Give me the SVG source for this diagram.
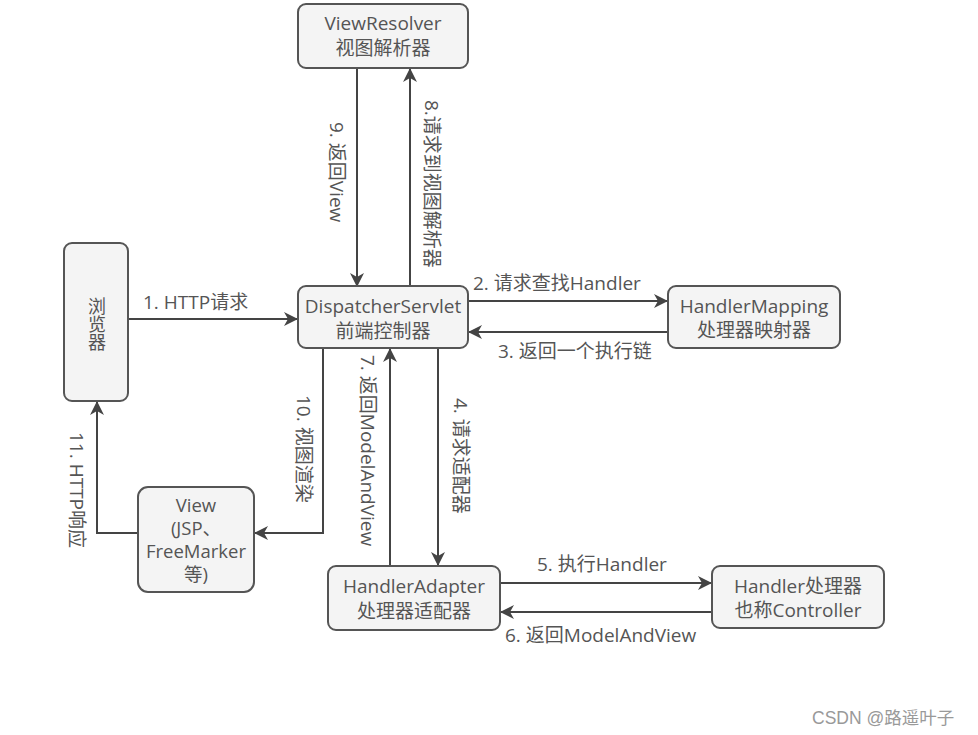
<svg xmlns="http://www.w3.org/2000/svg" width="978" height="735" viewBox="0 0 978 735">
<style>
.box{fill:#f4f4f4;stroke:#555;stroke-width:2}
.t{font-family:"Open Sans","Noto Sans CJK SC",sans-serif;font-size:19px;fill:#555}
.c{text-anchor:middle}
.v{dominant-baseline:central}
.ln{fill:none;stroke:#444;stroke-width:2}
.wm{font-family:"Liberation Sans","Noto Sans CJK SC",sans-serif;font-size:17.5px;fill:#999}
</style>
<defs>
<marker id="ah" viewBox="0 0 14 14" refX="13" refY="7" markerWidth="14" markerHeight="14" markerUnits="userSpaceOnUse" orient="auto">
<path d="M0,0 L14,7 L0,14 L4,7 z" fill="#444"/>
</marker>
</defs>
<rect width="978" height="735" fill="#fff"/>
<g id="connectors">
<path class="ln" d="M357,68 V286" marker-end="url(#ah)"/>
<path class="ln" d="M410,286 V69" marker-end="url(#ah)"/>
<path class="ln" d="M128,319 H297" marker-end="url(#ah)"/>
<path class="ln" d="M468,301 H667" marker-end="url(#ah)"/>
<path class="ln" d="M668,332 H469" marker-end="url(#ah)"/>
<path class="ln" d="M323,348 V533 H255" marker-end="url(#ah)"/>
<path class="ln" d="M390,566 V349" marker-end="url(#ah)"/>
<path class="ln" d="M438,348 V565" marker-end="url(#ah)"/>
<path class="ln" d="M138,533 H97 V402" marker-end="url(#ah)"/>
<path class="ln" d="M500,583 H711" marker-end="url(#ah)"/>
<path class="ln" d="M712,612 H501" marker-end="url(#ah)"/>
<text class="t" x="143" y="309">1. HTTP请求</text>
<text class="t" x="473" y="290">2. 请求查找Handler</text>
<text class="t" x="498" y="358">3. 返回一个执行链</text>
<text class="t" x="537" y="571">5. 执行Handler</text>
<text class="t" x="505" y="642">6. 返回ModelAndView</text>
<text class="t v" transform="translate(337,122) rotate(90)">9. 返回View</text>
<text class="t v" transform="translate(432,100) rotate(90)">8.请求到视图解析器</text>
<text class="t v" transform="translate(304,395) rotate(90)">10. 视图渲染</text>
<text class="t v" transform="translate(368,355) rotate(90)">7. 返回ModelAndView</text>
<text class="t v" transform="translate(461,398) rotate(90)">4. 请求适配器</text>
<text class="t v" transform="translate(77,432) rotate(90)">11. HTTP响应</text>
</g>
<g id="viewresolver">
<rect class="box" x="298" y="4" width="170" height="64" rx="8"/>
<text class="t c" x="383" y="30">ViewResolver</text>
<text class="t c" x="383" y="55">视图解析器</text>
</g>
<g id="browser">
<rect class="box" x="64" y="243" width="64" height="158" rx="8"/>
<text class="t c" x="96" y="324" style="writing-mode:vertical-rl;font-size:18px">浏览器</text>
</g>
<g id="dispatcher">
<rect class="box" x="298" y="286" width="170" height="62" rx="8"/>
<text class="t c" x="383" y="313">DispatcherServlet</text>
<text class="t c" x="383" y="338">前端控制器</text>
</g>
<g id="handlermapping">
<rect class="box" x="668" y="286" width="172" height="62" rx="8"/>
<text class="t c" x="754" y="313">HandlerMapping</text>
<text class="t c" x="754" y="337">处理器映射器</text>
</g>
<g id="view">
<rect class="box" x="138" y="487" width="116" height="105" rx="10"/>
<text class="t c" style="font-size:18.5px"><tspan x="196" y="512">View</tspan><tspan x="196" dy="23">(JSP、</tspan><tspan x="196" dy="23">FreeMarker</tspan><tspan x="196" dy="23">等)</tspan></text>
</g>
<g id="handleradapter">
<rect class="box" x="328" y="566" width="172" height="64" rx="8"/>
<text class="t c" x="414" y="593">HandlerAdapter</text>
<text class="t c" x="414" y="618">处理器适配器</text>
</g>
<g id="handler">
<rect class="box" x="712" y="566" width="172" height="62" rx="8"/>
<text class="t c" x="798" y="593">Handler处理器</text>
<text class="t c" x="798" y="617">也称Controller</text>
</g>
<text class="wm" x="812" y="724">CSDN @路遥叶子</text>
</svg>
